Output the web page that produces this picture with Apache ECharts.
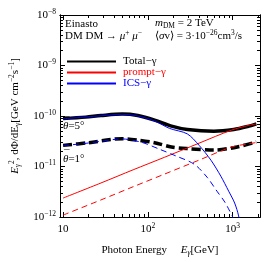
<!DOCTYPE html>
<html><head><meta charset="utf-8">
<script src="https://cdn.jsdelivr.net/npm/echarts@6/dist/echarts.min.js"></script>
<style>html,body{margin:0;padding:0;background:#fff}#c{width:266px;height:262px}</style>
</head><body><div id="c"></div>
<script>
// Photon energies (GeV) and E^2 dPhi/dE (GeV cm^-2 s^-1)
const totalE5 = [10, 18.5, 28, 50, 76, 120, 190, 292, 600, 1030, 1500, 1900];
const totalV5 = [8.9e-11, 9.5e-11, 1.02e-10, 1.09e-10, 1.02e-10, 8.3e-11, 6.3e-11, 5.4e-11, 5.0e-11, 5.4e-11, 6.2e-11, 7.0e-11];
const icsE5 = [10, 28, 50, 76, 120, 180, 292, 402, 555, 725, 897, 1055, 1175, 1270];
const icsV5 = [8.8e-11, 1.01e-10, 1.08e-10, 1.0e-10, 7.97e-11, 5.68e-11, 4.42e-11, 2.62e-11, 1.33e-11, 6.43e-12, 3.25e-12, 1.89e-12, 1.05e-12, 4.6e-13];
const promptE5 = [10, 28, 67, 158, 402, 973, 1535, 1900];
const promptV5 = [2.37e-12, 4.72e-12, 8.6e-12, 1.53e-11, 2.9e-11, 5.27e-11, 6.5e-11, 6.95e-11];
const totalE1 = [10, 20, 50, 76, 120, 190, 292, 600, 1030, 1900];
const totalV1 = [2.62e-11, 2.96e-11, 3.56e-11, 3.34e-11, 2.96e-11, 2.43e-11, 2.26e-11, 2.12e-11, 2.36e-11, 3.05e-11];
const icsE1 = [10, 20, 50, 85, 138, 212, 352, 499, 652, 807, 923, 1000, 1084];
const icsV1 = [2.59e-11, 2.92e-11, 3.51e-11, 3.0e-11, 2.19e-11, 1.63e-11, 1.11e-11, 6.14e-12, 3.25e-12, 1.98e-12, 1.31e-12, 1.0e-12, 4.6e-13];
const promptE1 = [10, 28, 67, 158, 402, 973, 1535, 1900];
const promptV1 = [1.09e-12, 2.18e-12, 3.97e-12, 7.1e-12, 1.34e-11, 2.44e-11, 2.81e-11, 2.98e-11];

const xMajor = [10, 100, 1000];
const xMinor = [20,30,40,50,60,70,80,90,200,300,400,500,600,700,800,900,2000];
const yMajorExp = [-12, -11, -10, -9, -8];
const xRange = [9.2, 2100];
const yRange = [1e-12, 1e-8];

const F = 'Liberation Serif';
const L = Math.log10;
const yMinor = [];
for (let e = -12; e < -8; e++) for (let k = 2; k <= 9; k++) yMinor.push(L(k) + e);

const rich = {
  b: {fontFamily: F, fontSize: 11, color: '#000', lineHeight: 14},
  i: {fontFamily: F, fontSize: 11, color: '#000', fontStyle: 'italic', lineHeight: 14},
  sup: {fontFamily: F, fontSize: 7.5, color: '#000', verticalAlign: 'top', lineHeight: 14},
  sub: {fontFamily: F, fontSize: 7.5, color: '#000', verticalAlign: 'bottom', lineHeight: 14},
  isub: {fontFamily: F, fontSize: 7.5, color: '#000', fontStyle: 'italic', verticalAlign: 'bottom', lineHeight: 14}
};

function pts(E, V) { return E.map((e, i) => [L(e), L(V[i])]); }

const xmin = L(xRange[0]), xmax = L(xRange[1]);
const ymin = L(yRange[0]), ymax = L(yRange[1]);

function xAx(pos, ticks, len, labels) {
  return {
    type: 'value', position: pos, min: xmin, max: xmax,
    axisLine: {show: true, onZero: false, lineStyle: {color: '#000', width: 1}},
    axisTick: {show: true, inside: true, length: len, customValues: ticks, lineStyle: {color: '#000', width: 1}},
    axisLabel: labels ? {show: true, customValues: xMajor.map(L), margin: 5,
      formatter: v => { const n = Math.round(v); return n === 1 ? '{b|10}' : '{b|10}{sup|' + n + '}'; }, rich: rich}
      : {show: false},
    splitLine: {show: false}
  };
}
function yAx(pos, ticks, len, labels) {
  return {
    type: 'value', position: pos, min: ymin, max: ymax,
    axisLine: {show: true, onZero: false, lineStyle: {color: '#000', width: 1}},
    axisTick: {show: true, inside: true, length: len, customValues: ticks, lineStyle: {color: '#000', width: 1}},
    axisLabel: labels ? {show: true, customValues: yMajorExp, margin: 4,
      formatter: v => '{b|10}{sup|\u2212' + Math.abs(Math.round(v)) + '}', rich: rich}
      : {show: false},
    splitLine: {show: false}
  };
}

const xA = [xAx('bottom', xMajor.map(L), 5, true), xAx('bottom', xMinor.map(L), 3, false),
            xAx('top', xMajor.map(L), 5, false), xAx('top', xMinor.map(L), 3, false)];
xA[0].name = '{b|Photon Energy     }{i|E}{isub|\u03b3}{b|[GeV]}';
xA[0].nameLocation = 'middle';
xA[0].nameGap = 26;
xA[0].nameTextStyle = {rich: rich};
const yA = [yAx('left', yMajorExp, 5, true), yAx('left', yMinor, 3, false),
            yAx('right', yMajorExp, 5, false), yAx('right', yMinor, 3, false)];
yA[0].name = '{i|E}{isub|\u03b3}{sup|2}{b|, d\u03a6/dE}{sub|\u03b3}{b|[GeV cm}{sup|\u22122}{b|s}{sup|\u22121}{b|]}';
yA[0].nameLocation = 'middle';
yA[0].nameGap = 38;
yA[0].nameTextStyle = {rich: rich};

function line(name, E, V, color, width, dash) {
  return {
    name: name, type: 'line', data: pts(E, V), xAxisIndex: 0, yAxisIndex: 0,
    symbol: 'none', showSymbol: false, smooth: 0.3, clip: true,
    lineStyle: {color: color, width: width, type: dash || 'solid', cap: 'butt'},
    itemStyle: {color: color}, z: width > 2 ? 3 : 4
  };
}

const T = '11px "Liberation Serif"';
const chart = echarts.init(document.getElementById('c'), null, {renderer: 'canvas'});
chart.setOption({
  animation: false,
  backgroundColor: '#fff',
  grid: {left: 59, right: 6, top: 15, bottom: 44, containLabel: false},
  xAxis: xA,
  yAxis: yA,
  legend: {
    orient: 'vertical', left: 66, top: 56, padding: 0, itemWidth: 49, itemHeight: 10, itemGap: 0,
    data: [
      {name: 'Total\u2212\u03b3', textStyle: {color: '#000'}},
      {name: 'prompt\u2212\u03b3', textStyle: {color: '#ff0000'}},
      {name: 'ICS\u2212\u03b3', textStyle: {color: '#0000ff'}}
    ],
    itemStyle: {color: 'rgba(0,0,0,0)', borderWidth: 0, opacity: 0},
    textStyle: {fontFamily: F, fontSize: 11, padding: [0, 0, 0, 2]},
    selectedMode: false
  },
  graphic: [
    {type: 'text', left: 65, top: 19, style: {text: 'Einasto', font: T, fill: '#000'}},
    {type: 'text', left: 65, top: 29, style: {rich: rich, text: '{b|DM DM \u2192 }{i|\u03bc}{sup|+}{i| \u03bc}{sup|\u2212}'}},
    {type: 'text', left: 155, top: 18, style: {rich: rich, text: '{i|m}{sub|DM}{b| = 2 TeV}'}},
    {type: 'text', left: 155, top: 29, style: {rich: rich, text: '{b|\u27e8}{i|\u03c3}{b|v\u27e9 = 3\u00b710}{sup|\u221226}{b|cm}{sup|3}{b|/s}'}},
    {type: 'text', left: 63, top: 121, style: {rich: rich, text: '{i|\u03b8}{b|=5\u00b0}'}},
    {type: 'text', left: 64, top: 116, style: {text: '\u00af', font: T, fill: '#000'}},
    {type: 'text', left: 63, top: 154, style: {rich: rich, text: '{i|\u03b8}{b|=1\u00b0}'}},
    {type: 'text', left: 64, top: 149, style: {text: '\u00af', font: T, fill: '#000'}}
  ],
  series: [
    line('Total\u2212\u03b3', totalE5, totalV5, '#000', 3.5),
    line('prompt\u2212\u03b3', promptE5, promptV5, '#ff0000', 1),
    line('ICS\u2212\u03b3', icsE5, icsV5, '#0000ff', 1),
    line('Total\u2212\u03b3 1deg', totalE1, totalV1, '#000', 3.5, [9, 4]),
    line('prompt\u2212\u03b3 1deg', promptE1, promptV1, '#ff0000', 1, [6, 4]),
    line('ICS\u2212\u03b3 1deg', icsE1, icsV1, '#0000ff', 1, [6, 4])
  ]
});
</script></body></html>
